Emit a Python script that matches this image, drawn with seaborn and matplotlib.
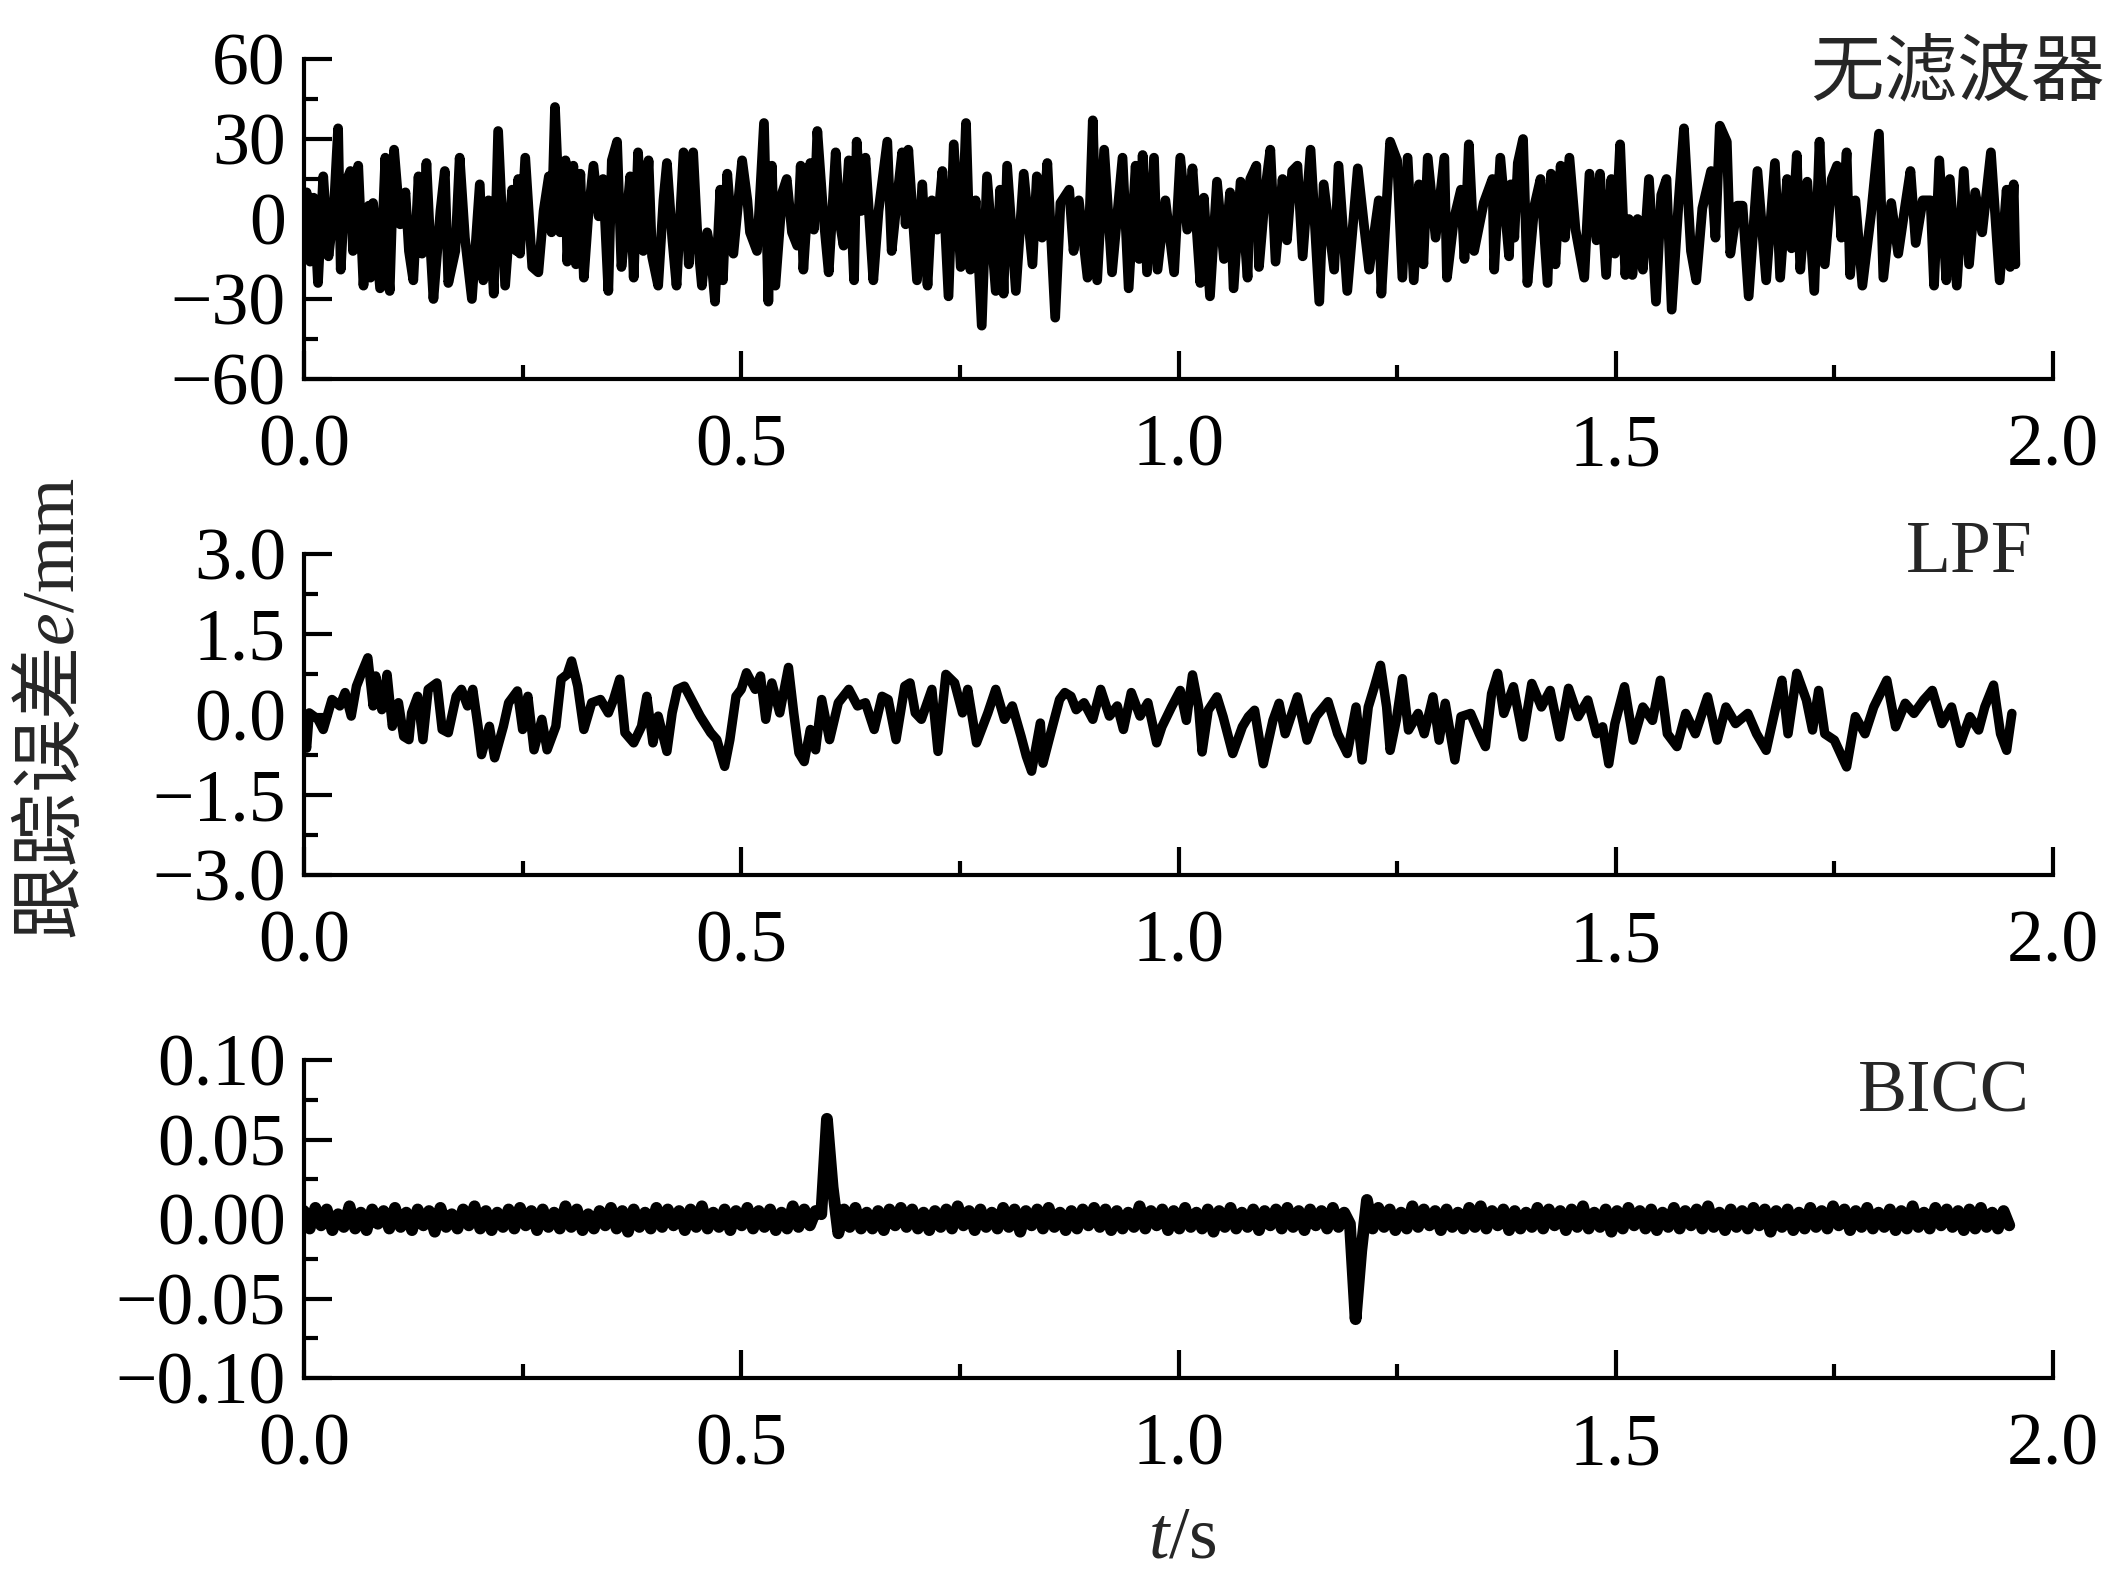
import numpy as np
import matplotlib
matplotlib.use('Agg')
import matplotlib.pyplot as plt
from matplotlib.ticker import MultipleLocator, FuncFormatter
import seaborn as sns

# --- panel 1: no filter (mm), times (s) ---
t_nf = [0.000, 0.003, 0.007, 0.011, 0.016, 0.022, 0.028, 0.034, 0.039, 0.042,
        0.047, 0.053, 0.056, 0.062, 0.068, 0.074, 0.076, 0.079, 0.087, 0.093,
        0.095, 0.098, 0.103, 0.110, 0.116, 0.120, 0.125, 0.131, 0.135, 0.140,
        0.144, 0.148, 0.156, 0.161, 0.165, 0.173, 0.178, 0.184, 0.192, 0.201,
        0.205, 0.211, 0.217, 0.222, 0.230, 0.238, 0.243, 0.245, 0.247, 0.253,
        0.261, 0.268, 0.274, 0.280, 0.283, 0.287, 0.293, 0.299, 0.301, 0.308,
        0.311, 0.316, 0.320, 0.325, 0.331, 0.337, 0.342, 0.348, 0.352, 0.358,
        0.363, 0.369, 0.373, 0.377, 0.382, 0.388, 0.394, 0.398, 0.405, 0.411,
        0.415, 0.421, 0.426, 0.434, 0.440, 0.445, 0.450, 0.455, 0.461, 0.465,
        0.470, 0.476, 0.479, 0.484, 0.491, 0.501, 0.507, 0.510, 0.518, 0.526,
        0.531, 0.535, 0.539, 0.547, 0.552, 0.558, 0.564, 0.568, 0.571, 0.579,
        0.583, 0.587, 0.594, 0.600, 0.608, 0.613, 0.617, 0.623, 0.629, 0.632,
        0.637, 0.642, 0.651, 0.657, 0.667, 0.672, 0.678, 0.684, 0.688, 0.691,
        0.701, 0.707, 0.713, 0.718, 0.724, 0.730, 0.737, 0.743, 0.751, 0.757,
        0.762, 0.768, 0.775, 0.781, 0.791, 0.796, 0.800, 0.804, 0.814, 0.823,
        0.833, 0.838, 0.844, 0.850, 0.859, 0.865, 0.875, 0.880, 0.886, 0.896,
        0.902, 0.907, 0.915, 0.924, 0.936, 0.943, 0.951, 0.955, 0.959, 0.964,
        0.972, 0.976, 0.985, 0.995, 1.002, 1.010, 1.016, 1.025, 1.029, 1.036,
        1.044, 1.052, 1.059, 1.063, 1.071, 1.079, 1.082, 1.089, 1.092, 1.100,
        1.105, 1.111, 1.119, 1.124, 1.130, 1.136, 1.142, 1.151, 1.161, 1.166,
        1.178, 1.183, 1.193, 1.205, 1.212, 1.218, 1.229, 1.232, 1.242, 1.250,
        1.256, 1.262, 1.269, 1.275, 1.280, 1.285, 1.294, 1.304, 1.307, 1.315,
        1.323, 1.327, 1.332, 1.338, 1.349, 1.359, 1.361, 1.368, 1.378, 1.380,
        1.384, 1.388, 1.394, 1.399, 1.407, 1.414, 1.422, 1.426, 1.431, 1.437,
        1.442, 1.447, 1.454, 1.464, 1.470, 1.478, 1.482, 1.489, 1.495, 1.499,
        1.505, 1.511, 1.515, 1.519, 1.525, 1.531, 1.538, 1.546, 1.552, 1.558,
        1.564, 1.572, 1.578, 1.586, 1.592, 1.599, 1.609, 1.614, 1.619, 1.627,
        1.631, 1.639, 1.645, 1.652, 1.662, 1.672, 1.682, 1.688, 1.696, 1.701,
        1.707, 1.711, 1.719, 1.727, 1.733, 1.739, 1.747, 1.753, 1.758, 1.764,
        1.768, 1.774, 1.782, 1.792, 1.801, 1.806, 1.815, 1.823, 1.831, 1.837,
        1.843, 1.851, 1.860, 1.864, 1.870, 1.878, 1.882, 1.890, 1.898, 1.904,
        1.911, 1.919, 1.929, 1.939, 1.947, 1.951, 1.955, 1.957]
e_nf = [-7, 10, -16, 8, -24, 16, -14, 3, 34, -19,
        13, 18, -12, 20, -25, 5, -22, 6, -26, 23,
        -14, -27, 26, -2, 10, -12, -23, 16, -13, 21,
        -7, -30, 3, 18, -24, -12, 23, -7, -30, 13,
        -23, 7, -28, 33, -25, 11, -12, 15, -13, 23,
        -18, -20, 3, 16, -5, 42, -5, 22, -16, 20,
        -17, 17, -22, 1, 20, 1, 15, -27, 22, 29,
        -18, 1, 16, -22, 25, -12, 22, -14, -25, 7,
        21, -7, -25, 25, -17, 25, -7, -25, -5, -12,
        -31, 11, -23, 17, -13, 22, 7, -5, -12, 36,
        -31, 20, -25, 10, 15, -5, -10, 20, -19, 21,
        -4, 33, 1, -20, 25, -2, -10, 22, -23, 29,
        3, 23, -23, 3, 29, -12, 7, 25, -2, 26,
        -23, 13, -25, 7, -4, 18, -29, 28, -18, 36,
        -19, 7, -40, 16, -27, 11, -28, 20, -27, 17,
        -17, 16, -7, 21, -37, 6, 11, -12, 7, -22,
        37, -23, 26, -20, 23, -26, 20, -15, 24, -20,
        23, -19, 7, -20, 23, -4, 19, -24, 8, -29,
        14, -15, 10, -26, 14, -22, 15, 20, -18, 13,
        26, -16, 15, -8, 18, 20, -14, 26, -31, 13,
        -19, 20, -27, 19, -2, -19, 7, -28, 29, 22,
        -22, 23, -23, 13, -17, 23, -7, 23, -22, 0,
        11, -15, 28, -12, 6, 15, -19, 23, -14, 13,
        -7, 21, 30, -24, 5, 15, -24, 17, -17, 20,
        -7, 23, -4, -22, 17, -8, 17, -21, 15, -13,
        28, -21, 0, -21, 0, -19, 15, -31, 9, 15,
        -34, 7, 34, -12, -23, 4, 18, -7, 35, 29,
        -13, 5, 5, -29, 18, -23, 21, -22, 15, -11,
        24, -19, 14, -27, 29, -17, 15, 20, -7, 25,
        -21, 7, -25, 2, 32, -22, 6, -13, 5, 18,
        -9, 7, 7, -25, 22, -23, 15, -25, 18, -17,
        10, -5, 25, -23, 11, -18, 13, -17]

# --- panel 2: LPF (mm) ---
t_lpf = [0.000, 0.003, 0.006, 0.016, 0.022, 0.032, 0.041, 0.047, 0.054, 0.060,
         0.066, 0.073, 0.079, 0.082, 0.089, 0.095, 0.101, 0.108, 0.114, 0.120,
         0.123, 0.130, 0.136, 0.142, 0.152, 0.158, 0.165, 0.174, 0.180, 0.187,
         0.193, 0.199, 0.203, 0.212, 0.218, 0.228, 0.234, 0.244, 0.250, 0.256,
         0.263, 0.272, 0.278, 0.288, 0.294, 0.301, 0.306, 0.313, 0.320, 0.329,
         0.339, 0.348, 0.354, 0.361, 0.367, 0.377, 0.386, 0.392, 0.399, 0.405,
         0.415, 0.421, 0.427, 0.435, 0.443, 0.453, 0.465, 0.472, 0.481, 0.487,
         0.494, 0.500, 0.506, 0.516, 0.522, 0.528, 0.535, 0.544, 0.554, 0.560,
         0.566, 0.572, 0.579, 0.585, 0.592, 0.601, 0.611, 0.623, 0.633, 0.642,
         0.652, 0.661, 0.668, 0.677, 0.687, 0.693, 0.699, 0.706, 0.718, 0.725,
         0.734, 0.744, 0.753, 0.759, 0.769, 0.782, 0.791, 0.801, 0.810, 0.820,
         0.826, 0.832, 0.842, 0.845, 0.854, 0.864, 0.870, 0.877, 0.883, 0.892,
         0.902, 0.911, 0.921, 0.930, 0.937, 0.946, 0.956, 0.965, 0.975, 0.981,
         0.992, 1.002, 1.009, 1.016, 1.023, 1.027, 1.034, 1.044, 1.051, 1.062,
         1.073, 1.080, 1.087, 1.097, 1.108, 1.115, 1.122, 1.136, 1.147, 1.157,
         1.171, 1.182, 1.193, 1.203, 1.210, 1.217, 1.224, 1.231, 1.238, 1.242,
         1.249, 1.256, 1.263, 1.274, 1.281, 1.291, 1.298, 1.305, 1.316, 1.323,
         1.334, 1.344, 1.351, 1.358, 1.365, 1.372, 1.383, 1.394, 1.404, 1.415,
         1.425, 1.436, 1.446, 1.457, 1.468, 1.478, 1.485, 1.492, 1.499, 1.510,
         1.520, 1.531, 1.542, 1.551, 1.559, 1.570, 1.580, 1.591, 1.605, 1.616,
         1.626, 1.637, 1.651, 1.661, 1.672, 1.683, 1.690, 1.697, 1.707, 1.718,
         1.725, 1.732, 1.739, 1.750, 1.764, 1.774, 1.785, 1.795, 1.810, 1.820,
         1.831, 1.841, 1.852, 1.862, 1.873, 1.884, 1.894, 1.905, 1.915, 1.922,
         1.932, 1.940, 1.947, 1.953]
e_lpf = [-0.34, -0.63, 0.03, -0.09, -0.28, 0.28, 0.16, 0.41, -0.03, 0.53,
         0.78, 1.06, 0.16, 0.72, 0.09, 0.75, -0.22, 0.22, -0.41, -0.47,
         0.03, 0.34, -0.47, 0.47, 0.59, -0.28, -0.34, 0.34, 0.47, 0.16,
         0.47, -0.22, -0.75, -0.22, -0.81, -0.22, 0.22, 0.44, -0.28, 0.34,
         -0.66, -0.09, -0.66, -0.22, 0.66, 0.75, 1.00, 0.53, -0.28, 0.22,
         0.28, 0.03, 0.28, 0.66, -0.34, -0.53, -0.22, 0.34, -0.53, -0.03,
         -0.69, 0.03, 0.47, 0.53, 0.28, -0.03, -0.34, -0.47, -0.97, -0.47,
         0.34, 0.47, 0.78, 0.47, 0.72, -0.09, 0.59, 0.03, 0.88, 0.03,
         -0.72, -0.88, -0.28, -0.66, 0.28, -0.47, 0.22, 0.47, 0.16, 0.22,
         -0.28, 0.34, 0.28, -0.47, 0.53, 0.59, 0.03, -0.09, 0.47, -0.69,
         0.75, 0.59, 0.03, 0.47, -0.53, 0.03, 0.47, -0.09, 0.16, -0.41,
         -0.78, -1.06, -0.16, -0.91, -0.34, 0.28, 0.41, 0.34, 0.09, 0.22,
         -0.09, 0.47, -0.03, 0.16, -0.28, 0.41, -0.03, 0.22, -0.53, -0.23,
         0.14, 0.45, -0.11, 0.74, 0.14, -0.70, 0.08, 0.33, -0.04, -0.73,
         -0.23, -0.04, 0.08, -0.92, -0.11, 0.21, -0.36, 0.33, -0.48, -0.04,
         0.24, -0.36, -0.73, 0.14, -0.85, 0.14, 0.52, 0.92, 0.14, -0.67,
         -0.11, 0.67, -0.29, 0.02, -0.36, 0.33, -0.48, 0.21, -0.85, -0.04,
         0.02, -0.36, -0.60, 0.39, 0.77, 0.02, 0.52, -0.42, 0.58, 0.14,
         0.45, -0.42, 0.49, -0.04, 0.27, -0.36, -0.23, -0.92, -0.17, 0.52,
         -0.48, 0.14, -0.11, 0.64, -0.36, -0.60, 0.02, -0.36, 0.33, -0.48,
         0.14, -0.17, 0.02, -0.36, -0.67, 0.14, 0.64, -0.36, 0.77, 0.27,
         -0.29, 0.45, -0.36, -0.48, -0.98, -0.04, -0.36, 0.14, 0.64, -0.23,
         0.21, 0.02, 0.27, 0.45, -0.17, 0.14, -0.54, -0.04, -0.29, 0.14,
         0.55, -0.36, -0.67, 0.02]

# --- panel 3: BICC, sampled every 6.5 ms, values in um ---
dt_bicc = 0.0065
e_bicc_um = [5, -6, 7, -4, 6, -7, 3, -5, 8, -6, 4, -7, 6, -3, 5, -6, 7, -5, 4, -7,
             6, -4, 5, -8, 7, -5, 3, -6, 6, -4, 8, -6, 5, -7, 4, -5, 6, -6, 7, -4,
             5, -7, 6, -5, 4, -6, 8, -5, 6, -7, 3, -6, 5, -4, 7, -6, 5, -8, 6, -5,
             4, -6, 7, -5, 6, -4, 5, -7, 6, -5, 8, -6, 4, -5, 6, -7, 5, -4, 7, -6,
             5, -5, 6, -7, 4, -6, 8, -5, 6, -4, 5, 3, 63, 20, -9, 6, -5, 7, -6, 4,
             -6, 5, -7, 6, -4, 7, -5, 6, -6, 4, -7, 5, -5, 6, -6, 8, -4, 5, -7, 6,
             -5, 4, -6, 7, -5, 6, -8, 5, -4, 6, -6, 7, -5, 4, -7, 5, -6, 6, -4, 7,
             -5, 6, -7, 5, -6, 4, -5, 8, -6, 5, -4, 6, -7, 5, -6, 7, -5, 4, -6, 6,
             -8, 5, -5, 7, -6, 4, -5, 6, -7, 5, -4, 6, -6, 7, -5, 5, -7, 6, -4, 5,
             -6, 7, -5, 4, -3, -63, -20, 12, -6, 7, -5, 6, -7, 4, -6, 8, -5, 6, -4, 5,
             -7, 6, -5, 4, -6, 7, -5, 8, -6, 5, -4, 6, -7, 5, -6, 4, -5, 7, -6, 6,
             -4, 5, -7, 6, -5, 8, -6, 4, -5, 6, -8, 5, -6, 7, -4, 5, -6, 6, -7, 4,
             -5, 7, -6, 5, -4, 6, -6, 8, -5, 4, -7, 6, -5, 5, -6, 7, -4, 6, -8, 5,
             -5, 6, -7, 4, -6, 7, -5, 5, -6, 8, -4, 6, -7, 5, -5, 7, -6, 4, -5, 6,
             -7, 5, -6, 8, -5, 4, -6, 7, -4, 6, -5, 5, -7, 6, -6, 7, -5, 4, -6, 5,
             -4]
t_bicc = np.arange(len(e_bicc_um)) * dt_bicc
e_bicc = np.array(e_bicc_um) / 1000.0

panel_names = ['无滤波器', 'LPF', 'BICC']
ylims = [(-60, 60), (-3.0, 3.0), (-0.10, 0.10)]
ymajor = [30, 1.5, 0.05]
yminor = [15, 0.75, 0.025]
yfmt = ['{:.0f}', '{:.1f}', '{:.2f}']
line_w = [7.0, 6.8, 8.5]

sns.set_style('white')
plt.rcParams['font.family'] = ['Liberation Serif', 'Noto Sans CJK SC']
plt.rcParams['mathtext.fontset'] = 'custom'
plt.rcParams['mathtext.rm'] = 'Noto Sans CJK SC'
plt.rcParams['mathtext.it'] = 'Liberation Serif:italic'
plt.rcParams['mathtext.sf'] = 'Liberation Serif'
plt.rcParams['axes.unicode_minus'] = True

FS = 53
W, H = 2118, 1584
fig = plt.figure(figsize=(W / 100, H / 100), dpi=100)

# axes boxes in pixels: (top, bottom)
boxes = [(59, 379), (554, 875), (1060, 1378)]
x0, x1 = 304, 2053

series = [(t_nf, e_nf), (t_lpf, e_lpf), (t_bicc, e_bicc)]

def fmt_factory(f):
    return FuncFormatter(lambda v, p: f.format(v + 0.0).replace('-', '\u2212'))

for i, ((tt, ee), (top, bot)) in enumerate(zip(series, boxes)):
    ax = fig.add_axes([x0 / W, 1 - bot / H, (x1 - x0) / W, (bot - top) / H])
    sns.lineplot(x=tt, y=ee, ax=ax, color='black', linewidth=line_w[i],
                 estimator=None, sort=False, solid_joinstyle='round',
                 solid_capstyle='round')
    ax.set_xlim(0, 2.0)
    ax.set_ylim(*ylims[i])
    ax.xaxis.set_major_locator(MultipleLocator(0.5))
    ax.xaxis.set_minor_locator(MultipleLocator(0.25))
    ax.yaxis.set_major_locator(MultipleLocator(ymajor[i]))
    ax.yaxis.set_minor_locator(MultipleLocator(yminor[i]))
    ax.xaxis.set_major_formatter(fmt_factory('{:.1f}'))
    ax.yaxis.set_major_formatter(fmt_factory(yfmt[i]))
    sns.despine(ax=ax)
    for s in ['left', 'bottom']:
        ax.spines[s].set_linewidth(3)
        ax.spines[s].set_color('black')
    ax.tick_params(which='both', bottom=True, left=True, top=False, right=False)
    ax.tick_params(which='major', direction='in', length=20, width=3,
                   labelsize=FS, color='black', labelcolor='black')
    ax.tick_params(which='minor', direction='in', length=10, width=3,
                   color='black')
    ax.tick_params(axis='x', which='major', pad=25)
    ax.tick_params(axis='y', which='major', pad=13)
    ax.set_xlabel('')
    ax.set_ylabel('')
    ax.set_facecolor('white')

fig.text(2105 / W, 1 - 74 / H, panel_names[0], ha='right', va='center',
         fontsize=FS, family=['Noto Sans CJK SC'])
fig.text(2033 / W, 1 - 554 / H, panel_names[1], ha='right', va='center',
         fontsize=FS)
fig.text(2030 / W, 1 - 1094 / H, panel_names[2], ha='right', va='center',
         fontsize=FS)

fig.text(54 / W, 1 - 709 / H, r'$\mathrm{跟踪误差}\mathit{e}\mathsf{/mm}$',
         rotation=90, ha='center', va='center', fontsize=FS)
fig.text(1182 / W, 1 - 1540 / H, r'$\mathit{t}\mathsf{/s}$',
         ha='center', va='center', fontsize=FS)

fig.savefig('out.png', dpi=100, facecolor='white')
